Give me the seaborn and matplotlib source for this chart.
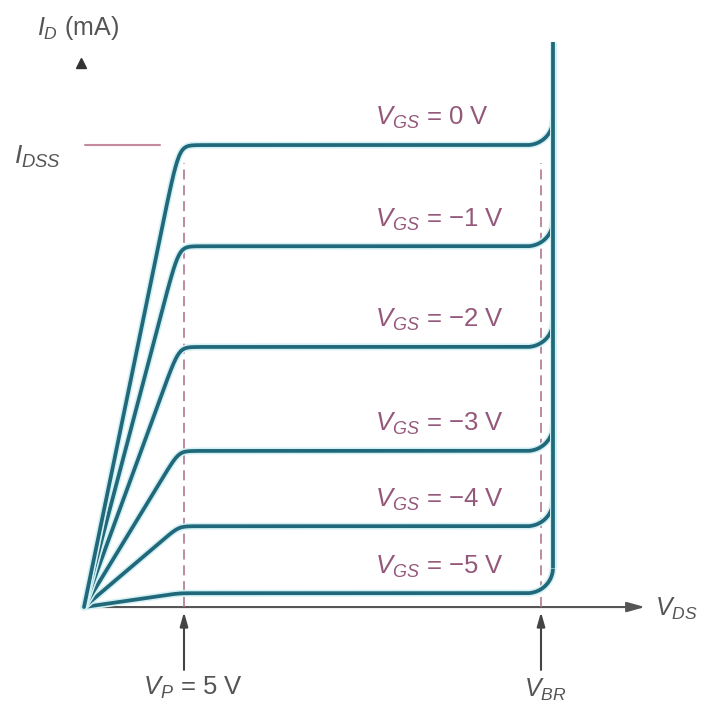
import numpy as np
import pandas as pd
import matplotlib
matplotlib.use("Agg")
import matplotlib.pyplot as plt
import matplotlib.patheffects as pe
import seaborn as sns

sns.set_theme(style="white")
plt.rcParams['font.family'] = ['Liberation Sans', 'DejaVu Sans']
plt.rcParams['mathtext.fontset'] = 'custom'
plt.rcParams['mathtext.rm'] = 'Liberation Sans'
plt.rcParams['mathtext.it'] = 'Liberation Sans:italic'

# JFET drain characteristics
vgs_values = [0, -1, -2, -3, -4, -5]
plateau_ma = [10.0, 7.81, 5.63, 3.38, 1.75, 0.30]
vgs_labels = ["0 V", "−1 V", "−2 V", "−3 V", "−4 V", "−5 V"]
v_pinch = 5.0        # V_P
v_knee = 4.75        # where the ohmic line meets the plateau
v_breakdown = 23.45  # vertical breakdown line
v_br_mark = 22.85    # dashed V_BR marker
i_top = 12.23        # top of breakdown line

curve_col = "#21697a"
label_col = "#94587a"
dash_col = "#b07792"
gray = "#555555"

# build the curves
rx, ry = 1.3, 0.55
rows = []
for vgs, ip in zip(vgs_values, plateau_ma):
    v_lin = np.linspace(0, v_breakdown - rx, 500)
    theta = np.linspace(0, np.pi / 2, 60)
    v_cor = v_breakdown - rx + rx * np.sin(theta)
    v = np.concatenate([v_lin, v_cor[1:]])
    t = v / v_knee
    k = 0.035
    sat = 1 - k * np.log1p(np.exp((1 - t) / k))
    sat = np.clip(sat, 0, None)
    extra = np.concatenate([np.zeros(len(v_lin)), ry * (1 - np.cos(theta[1:]))])
    i = ip * sat + extra
    rows.append(pd.DataFrame({"vds": v, "id": i, "vgs": vgs}))
df = pd.concat(rows, ignore_index=True)

fig = plt.figure(figsize=(7.03, 7.05), dpi=100)
ax = fig.add_axes([0, 0, 1, 1])

halo = [pe.Stroke(linewidth=5, foreground="#d3f1f5"), pe.Normal()]

sns.lineplot(data=df, x="vds", y="id", hue="vgs", units="vgs", estimator=None,
             sort=False, palette=[curve_col] * len(vgs_values), legend=False,
             linewidth=2.7, ax=ax)
ax.plot([v_breakdown, v_breakdown], [plateau_ma[-1] + ry, i_top],
        color=curve_col, lw=2.7, solid_capstyle="butt")
for ln in ax.lines:
    ln.set_path_effects(halo)

# dashed markers
for xv in [v_pinch, v_br_mark]:
    ax.plot([xv, xv], [0, 9.61], color=dash_col, lw=1.2, dashes=(6, 3.5), zorder=1)

# x axis with arrow
ax.annotate("", xy=(28.05, 0), xytext=(0, 0),
            arrowprops=dict(arrowstyle="-|>,head_length=0.9,head_width=0.25",
                            color=gray, lw=1.5, shrinkA=0, shrinkB=0), zorder=0)
ax.text(28.55, -0.05, "$V_{DS}$", fontsize=18, color=gray, va="center", ha="left")

# y axis arrow head only
ax.plot([-0.15], [11.78], marker="^", markersize=7, color="#333333", linestyle="none")
ax.text(-2.35, 12.53, "$I_D$ (mA)", fontsize=18, color=gray, va="center", ha="left")

# I_DSS marker
ax.plot([0.05, 3.8], [10.0, 10.0], color="#c48a9e", lw=1.5)
ax.text(-2.3, 9.74, "$I_{DSS}$", fontsize=19, color=gray, va="center", ha="center")

# curve labels
for ip, lab in zip(plateau_ma, vgs_labels):
    ax.text(14.55, ip + 0.58, "$V_{GS}$ = " + lab, fontsize=18.5, color=label_col,
            va="center", ha="left")

# bottom arrows
for xv in [v_pinch, v_br_mark]:
    ax.annotate("", xy=(xv, -0.11), xytext=(xv, -1.36),
                arrowprops=dict(arrowstyle="-|>,head_length=0.7,head_width=0.2",
                                color="#444444", lw=1.5, shrinkA=0, shrinkB=0))
ax.text(5.45, -1.75, "$V_P$ = 5 V", fontsize=18.5, color=gray, va="center", ha="center")
ax.text(23.05, -1.52, "$V_{BR}$", fontsize=18, color=gray, va="top", ha="center")

ax.set_xlim(-4.2, 30.95)
ax.set_ylim(-2.12, 13.14)
ax.axis("off")

fig.savefig("out.png", dpi=100)
